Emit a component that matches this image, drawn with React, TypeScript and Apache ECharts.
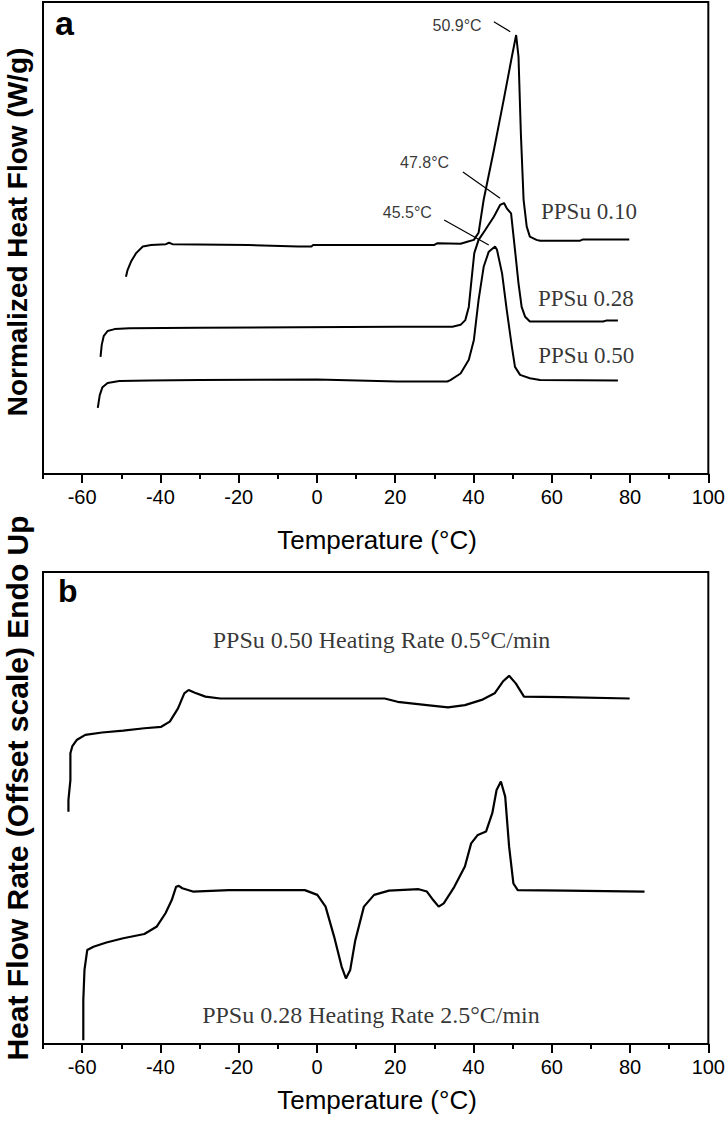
import React, { useEffect, useRef } from "react";
import * as echarts from "echarts";

// ---- axis data ----
const X_MIN = -70;
const X_MAX = 100;
const majorTicks = [-60, -40, -20, 0, 20, 40, 60, 80, 100];
const minorTicks = [-70, -50, -30, -10, 10, 30, 50, 70, 90];
const xTitle = "Temperature (°C)";
const yTitleA = "Normalized Heat Flow (W/g)";
const yTitleB = "Heat Flow Rate (Offset scale) Endo Up";

// ---- panel a (normalized heat flow, arbitrary offset units) ----
const ppsu010: [number, number][] = [
  [-48.8, 41.8], [-48.4, 43.2], [-47.5, 45.0], [-46.2, 46.8], [-44.5, 48.2], [-42.4, 48.5],
  [-38.6, 48.7], [-37.8, 49.0], [-36.9, 48.7], [-17.5, 48.5], [-4.8, 48.2], [-1.4, 48.2],
  [-1.0, 48.5], [29.9, 48.5], [30.8, 48.9], [36.7, 48.8], [38.4, 49.2], [40.1, 49.6],
  [41.3, 51.1], [42.6, 58.1], [45.2, 68.6], [47.7, 79.2], [49.8, 88.4], [50.9, 93.0],
  [51.5, 88.4], [52.1, 72.2], [52.8, 58.1], [53.6, 52.4], [54.4, 50.3], [56.1, 49.6],
  [57.0, 49.4], [67.1, 49.4], [68.0, 49.7], [79.8, 49.7],
];
const ppsu028: [number, number][] = [
  [-55.3, 24.8], [-55.0, 27.3], [-54.5, 29.2], [-53.5, 30.3], [-51.7, 30.7], [-47.9, 30.9],
  [-30.2, 31.0], [-4.8, 31.1], [20.6, 31.2], [34.6, 31.2], [36.7, 31.6], [37.9, 32.6],
  [38.8, 35.4], [39.4, 40.4], [40.2, 46.8], [41.3, 49.6], [43.0, 51.7], [45.2, 54.5],
  [46.8, 57.0], [47.8, 57.4], [48.5, 56.3], [49.6, 55.2], [50.6, 47.5], [51.5, 40.4],
  [52.3, 35.4], [53.2, 33.3], [54.4, 32.3], [73.1, 32.3], [73.9, 32.5], [76.9, 32.5],
];
const ppsu050: [number, number][] = [
  [-56.0, 14.0], [-55.5, 16.7], [-54.8, 18.4], [-53.5, 19.3], [-50.5, 19.7], [-42.8, 19.8],
  [-30.0, 19.9], [0.0, 20.0], [20.6, 19.6], [33.3, 19.6], [34.1, 19.9], [36.7, 21.3],
  [38.8, 24.2], [40.1, 28.4], [41.3, 36.9], [42.6, 43.9], [43.9, 47.1], [45.5, 48.2],
  [46.0, 47.5], [47.3, 42.5], [48.5, 34.7], [49.8, 27.0], [50.6, 22.7], [51.9, 21.0],
  [54.4, 20.3], [57.0, 19.9], [76.9, 19.8],
];
const peakLabels: [number, number, string][] = [
  [35.8, 95.1, "50.9°C"],
  [27.5, 65.9, "47.8°C"],
  [23.1, 55.3, "45.5°C"],
];
const leader509: [number, number][] = [[45.2, 95.8], [49.4, 93.7]];
const leader478: [number, number][] = [[37.3, 64.0], [46.8, 58.4]];
const leader455: [number, number][] = [[32.5, 53.8], [43.9, 48.5]];
const seriesLabelsA: [number, number, string][] = [
  [69.5, 55.7, "PPSu 0.10"],
  [68.7, 37.2, "PPSu 0.28"],
  [68.8, 25.2, "PPSu 0.50"],
];

// ---- panel b (heat flow rate, offset scale) ----
const rate05: [number, number][] = [
  [-63.5, 49.2], [-63.5, 51.7], [-63.0, 55.9], [-63.0, 61.6], [-62.5, 63.1], [-61.4, 64.4],
  [-59.2, 65.5], [-54.9, 66.0], [-49.5, 66.4], [-44.1, 66.9], [-39.8, 67.2], [-37.6, 68.3],
  [-35.5, 71.1], [-33.9, 74.3], [-32.8, 75.0], [-31.2, 74.4], [-28.5, 73.6], [-24.7, 73.2],
  [17.3, 73.2], [20.6, 72.5], [28.1, 71.8], [33.5, 71.3], [37.8, 71.8], [42.1, 72.9],
  [45.4, 74.3], [47.5, 76.8], [49.1, 78.0], [50.8, 76.4], [52.9, 73.6], [62.6, 73.5],
  [79.9, 73.2],
];
const rate25: [number, number][] = [
  [-59.7, 0.8], [-59.7, 9.3], [-59.4, 15.7], [-58.7, 19.9], [-57.1, 20.6], [-53.8, 21.5],
  [-49.5, 22.4], [-44.1, 23.3], [-40.9, 24.9], [-38.7, 27.7], [-37.1, 30.5], [-36.0, 33.3],
  [-35.3, 33.5], [-34.4, 33.0], [-31.7, 32.3], [-22.5, 32.6], [-3.1, 32.6], [0.1, 31.6],
  [2.2, 29.1], [4.4, 22.7], [6.3, 16.4], [7.4, 13.9], [8.5, 15.7], [9.8, 22.0],
  [12.0, 29.1], [14.6, 31.6], [18.4, 32.5], [26.0, 32.8], [28.1, 32.3], [29.7, 30.5],
  [31.1, 29.1], [32.4, 29.8], [35.1, 33.3], [37.8, 37.6], [39.4, 42.5], [41.1, 44.3],
  [43.2, 45.0], [44.8, 48.9], [45.9, 53.8], [47.0, 55.6], [48.1, 52.4], [49.1, 41.8],
  [50.2, 34.0], [51.3, 32.6], [63.7, 32.5], [83.7, 32.3],
];
const seriesLabelsB: [number, number, string][] = [
  [16.5, 85.6, "PPSu 0.50 Heating Rate 0.5°C/min"],
  [13.8, 6.1, "PPSu 0.28 Heating Rate 2.5°C/min"],
];

const SANS = "'Liberation Sans', Arial, Helvetica, sans-serif";
const SERIF = "'Liberation Serif', 'Times New Roman', Times, serif";

function lineSeries(data: [number, number][], xi: number, yi: number, width = 2) {
  return {
    type: "line",
    xAxisIndex: xi,
    yAxisIndex: yi,
    data,
    symbol: "none",
    lineStyle: { color: "#000", width },
    silent: true,
  };
}

function labelSeries(data: [number, number, string][], xi: number, yi: number, font: string, size: number) {
  return {
    type: "scatter",
    xAxisIndex: xi,
    yAxisIndex: yi,
    data,
    symbolSize: 0.1,
    itemStyle: { color: "rgba(0,0,0,0)" },
    label: {
      show: true,
      position: "inside",
      formatter: (p: any) => p.value[2],
      color: "#000",
      fontFamily: font,
      fontSize: size,
    },
    silent: true,
  };
}

function mainX(gridIndex: number) {
  return {
    type: "value",
    gridIndex,
    min: X_MIN,
    max: X_MAX,
    position: "bottom",
    axisLine: { show: true, lineStyle: { color: "#000", width: 2 } },
    axisTick: {
      show: true,
      customValues: majorTicks,
      length: 9,
      inside: false,
      lineStyle: { color: "#000", width: 2 },
    },
    axisLabel: {
      show: true,
      customValues: majorTicks,
      color: "#000",
      fontFamily: SANS,
      fontSize: 20,
      margin: 13,
    },
    splitLine: { show: false },
  };
}

function minorX(gridIndex: number) {
  return {
    type: "value",
    gridIndex,
    min: X_MIN,
    max: X_MAX,
    position: "bottom",
    axisLine: { show: false },
    axisTick: {
      show: true,
      customValues: minorTicks,
      length: 5,
      inside: false,
      lineStyle: { color: "#000", width: 2 },
    },
    axisLabel: { show: false },
    splitLine: { show: false },
  };
}

function yAx(gridIndex: number) {
  return {
    type: "value",
    gridIndex,
    min: 0,
    max: 100,
    axisLine: { show: false },
    axisTick: { show: false },
    axisLabel: { show: false },
    splitLine: { show: false },
  };
}

export default function App() {
  const ref = useRef<HTMLDivElement>(null);
  useEffect(() => {
    document.body.style.margin = "0";
    if (!ref.current) return;
    const chart = echarts.init(ref.current, undefined, { renderer: "svg" });
    const option: any = {
      animation: false,
      backgroundColor: "#fff",
      grid: [
        { left: 43, top: 2, width: 669, height: 472, show: true, borderColor: "#000", borderWidth: 2, backgroundColor: "transparent" },
        { left: 43, top: 572, width: 669, height: 472, show: true, borderColor: "#000", borderWidth: 2, backgroundColor: "transparent" },
      ],
      xAxis: [mainX(0), minorX(0), mainX(1), minorX(1)],
      yAxis: [yAx(0), yAx(1)],
      series: [
        lineSeries(ppsu010, 0, 0),
        lineSeries(ppsu028, 0, 0),
        lineSeries(ppsu050, 0, 0),
        lineSeries(leader509, 0, 0, 1.2),
        lineSeries(leader478, 0, 0, 1.2),
        lineSeries(leader455, 0, 0, 1.2),
        labelSeries(peakLabels, 0, 0, SANS, 16),
        labelSeries(seriesLabelsA, 0, 0, SERIF, 23),
        lineSeries(rate05, 2, 1, 2.2),
        lineSeries(rate25, 2, 1, 2.2),
        labelSeries(seriesLabelsB, 2, 1, SERIF, 24),
      ],
      graphic: [
        { type: "text", left: 55, top: 6, style: { text: "a", font: `bold 34px ${SANS}`, fill: "#000" } },
        { type: "text", left: 58, top: 575, style: { text: "b", font: `bold 32px ${SANS}`, fill: "#000" } },
        {
          type: "text", x: 377, y: 540,
          style: { text: xTitle, font: `26px ${SANS}`, fill: "#000", align: "center", verticalAlign: "middle" },
        },
        {
          type: "text", x: 377, y: 1100,
          style: { text: xTitle, font: `26px ${SANS}`, fill: "#000", align: "center", verticalAlign: "middle" },
        },
        {
          type: "text", x: 17, y: 232, rotation: Math.PI / 2,
          style: { text: yTitleA, font: `bold 28px ${SANS}`, fill: "#000", align: "center", verticalAlign: "middle" },
        },
        {
          type: "text", x: 17, y: 788, rotation: Math.PI / 2,
          style: { text: yTitleB, font: `bold 30px ${SANS}`, fill: "#000", align: "center", verticalAlign: "middle" },
        },
      ],
    };
    chart.setOption(option);
    return () => chart.dispose();
  }, []);
  return <div ref={ref} style={{ width: 728, height: 1125 }} />;
}
